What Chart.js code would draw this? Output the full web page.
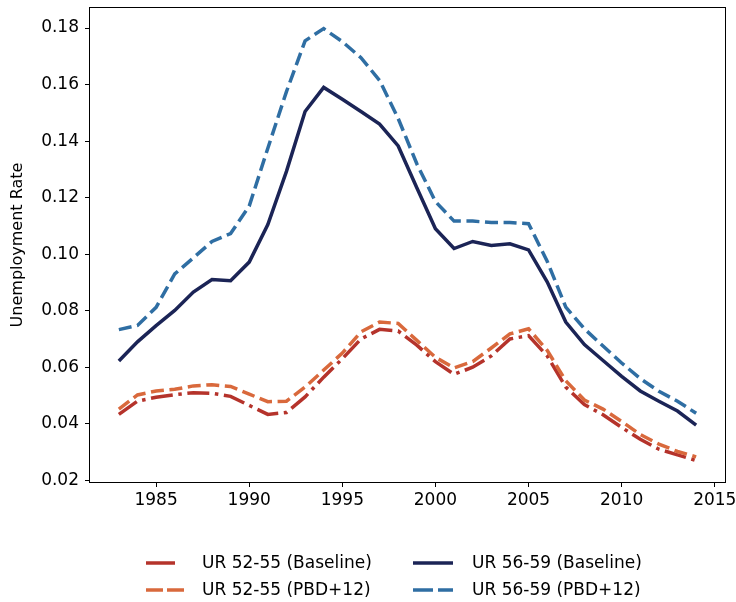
<!DOCTYPE html>
<html>
<head>
<meta charset="utf-8">
<script src="https://cdn.jsdelivr.net/npm/chart.js@4"></script>
<style>
  html, body { margin: 0; padding: 0; background: #ffffff; }
  #wrap { width: 736px; height: 602px; }
</style>
</head>
<body>
<div id="wrap"><canvas id="c" width="736" height="602"></canvas></div>
<script>
// Unemployment rate by age group, baseline vs. PBD+12 scenario
const years = [1983, 1984, 1985, 1986, 1987, 1988, 1989, 1990, 1991, 1992, 1993, 1994, 1995, 1996, 1997, 1998,
               1999, 2000, 2001, 2002, 2003, 2004, 2005, 2006, 2007, 2008, 2009, 2010, 2011, 2012, 2013, 2014];

const ur5255Baseline = [0.0433, 0.0480, 0.0494, 0.0503, 0.0510, 0.0508, 0.0497, 0.0465, 0.0433, 0.0440, 0.0495,
                        0.0565, 0.0630, 0.0700, 0.0734, 0.0728, 0.0678, 0.0620, 0.0575, 0.0600, 0.0640, 0.0700,
                        0.0712, 0.0640, 0.0530, 0.0468, 0.0432, 0.0387, 0.0345, 0.0310, 0.0290, 0.0270];

const ur5255Pbd12 = [0.0452, 0.0502, 0.0516, 0.0522, 0.0534, 0.0538, 0.0532, 0.0505, 0.0478, 0.0480, 0.0530,
                     0.0590, 0.0650, 0.0725, 0.0760, 0.0755, 0.0695, 0.0635, 0.0598, 0.0620, 0.0668, 0.0718,
                     0.0736, 0.0660, 0.0552, 0.0484, 0.0452, 0.0408, 0.0362, 0.0328, 0.0302, 0.0283];

const ur5659Baseline = [0.0622, 0.0690, 0.0747, 0.0801, 0.0866, 0.0910, 0.0906, 0.0972, 0.1105, 0.1293, 0.1505,
                        0.1590, 0.1548, 0.1505, 0.1460, 0.1383, 0.1235, 0.1090, 0.1020, 0.1045, 0.1031, 0.1037,
                        0.1015, 0.0902, 0.0760, 0.0680, 0.0624, 0.0568, 0.0516, 0.0480, 0.0445, 0.0395];

const ur5659Pbd12 = [0.0733, 0.0748, 0.0812, 0.0930, 0.0987, 0.1045, 0.1073, 0.1170, 0.1375, 0.1575, 0.1755,
                     0.1798, 0.1752, 0.1695, 0.1615, 0.1480, 0.1320, 0.1186, 0.1117, 0.1117, 0.1112, 0.1112,
                     0.1108, 0.0975, 0.0813, 0.0736, 0.0675, 0.0615, 0.0560, 0.0515, 0.0480, 0.0437];

const xTickValues = [1985, 1990, 1995, 2000, 2005, 2010, 2015];
const yTickValues = [0.02, 0.04, 0.06, 0.08, 0.10, 0.12, 0.14, 0.16, 0.18];

const FONT = 'DejaVu Sans';

function toPoints(values) {
  return years.map((yr, i) => ({ x: yr, y: values[i] }));
}

const DASHED = [13, 5.6];
const DASH_DOT = [22, 5.6, 3.5, 5.6];

const datasets = [
  { label: 'UR 52-55 (Baseline)', data: toPoints(ur5255Baseline), borderColor: '#b5332b', borderDash: DASH_DOT, legendDash: [29, 40], order: 4 },
  { label: 'UR 52-55 (PBD+12)',   data: toPoints(ur5255Pbd12),    borderColor: '#d9693c', borderDash: DASHED,   legendDash: [17, 4],  order: 3 },
  { label: 'UR 56-59 (Baseline)', data: toPoints(ur5659Baseline), borderColor: '#1b2456', borderDash: [],       legendDash: [],       order: 2 },
  { label: 'UR 56-59 (PBD+12)',   data: toPoints(ur5659Pbd12),    borderColor: '#2f6ea3', borderDash: DASHED,   legendDash: [20, 5],  order: 1 }
].map(d => Object.assign(d, { borderWidth: 3.5, fill: false, pointRadius: 0 }));

// Box around the plotting area
const framePlugin = {
  id: 'frame',
  afterDraw(chart) {
    const { ctx, chartArea: a } = chart;
    ctx.save();
    ctx.strokeStyle = '#000';
    ctx.lineWidth = 1;
    ctx.strokeRect(Math.round(a.left) - 0.5, Math.round(a.top) - 0.5,
                   Math.round(a.right - a.left) + 1, Math.round(a.bottom - a.top) + 1);
    ctx.restore();
  }
};

// Two-column legend under the x axis (columns: 52-55 series, 56-59 series)
const columnLegendPlugin = {
  id: 'columnLegend',
  afterDraw(chart) {
    const { ctx } = chart;
    const ds = chart.data.datasets;
    const cols = [{ sx: 146, tx: 202 }, { sx: 413, tx: 472 }];
    const rows = [563, 590];
    const slots = [[0, 0], [0, 1], [1, 0], [1, 1]]; // [column, row] per dataset
    ctx.save();
    ctx.font = '17px "' + FONT + '"';
    ctx.textBaseline = 'middle';
    ctx.textAlign = 'left';
    ds.forEach((d, i) => {
      const [c, r] = slots[i];
      const y = rows[r];
      ctx.beginPath();
      ctx.setLineDash(d.legendDash || []);
      ctx.lineWidth = d.borderWidth;
      ctx.lineCap = 'butt';
      ctx.strokeStyle = d.borderColor;
      ctx.moveTo(cols[c].sx, y);
      ctx.lineTo(cols[c].sx + 40, y);
      ctx.stroke();
      ctx.setLineDash([]);
      ctx.fillStyle = '#000';
      ctx.fillText(d.label, cols[c].tx, y + 1);
    });
    ctx.restore();
  }
};

new Chart(document.getElementById('c'), {
  type: 'line',
  data: { datasets },
  plugins: [framePlugin, columnLegendPlugin],
  options: {
    responsive: false,
    animation: false,
    devicePixelRatio: 1,
    layout: { padding: { top: 8, right: 11, left: 0, bottom: 0 } },
    plugins: { legend: { display: false }, tooltip: { enabled: false } },
    elements: { line: { tension: 0, borderCapStyle: 'butt', borderJoinStyle: 'miter' }, point: { radius: 0 } },
    scales: {
      x: {
        type: 'linear',
        min: 1981.45,
        max: 2015.55,
        afterBuildTicks: s => { s.ticks = xTickValues.map(v => ({ value: v })); },
        afterFit: s => { s.height = 120; s.paddingLeft = 0; s.paddingRight = 0; },
        border: { display: false },
        grid: { display: true, drawOnChartArea: false, drawTicks: true, tickLength: 5, tickColor: '#000', tickWidth: 1, color: '#000' },
        ticks: { color: '#000', font: { family: FONT, size: 17 }, padding: 3, maxRotation: 0, autoSkip: false,
                 callback: v => String(v) }
      },
      y: {
        type: 'linear',
        min: 0.0194,
        max: 0.1871,
        afterBuildTicks: s => { s.ticks = yTickValues.map(v => ({ value: v })); },
        afterFit: s => { s.width = 90; s.paddingTop = 0; s.paddingBottom = 0; },
        border: { display: false },
        grid: { display: true, drawOnChartArea: false, drawTicks: true, tickLength: 5, tickColor: '#000', tickWidth: 1, color: '#000' },
        ticks: { color: '#000', font: { family: FONT, size: 17 }, padding: 6, autoSkip: false,
                 callback: v => v.toFixed(2) },
        title: { display: true, text: 'Unemployment Rate', color: '#000', font: { family: FONT, size: 16 },
                 padding: { top: 8, bottom: 0 } }
      }
    }
  }
});
</script>
</body>
</html>
